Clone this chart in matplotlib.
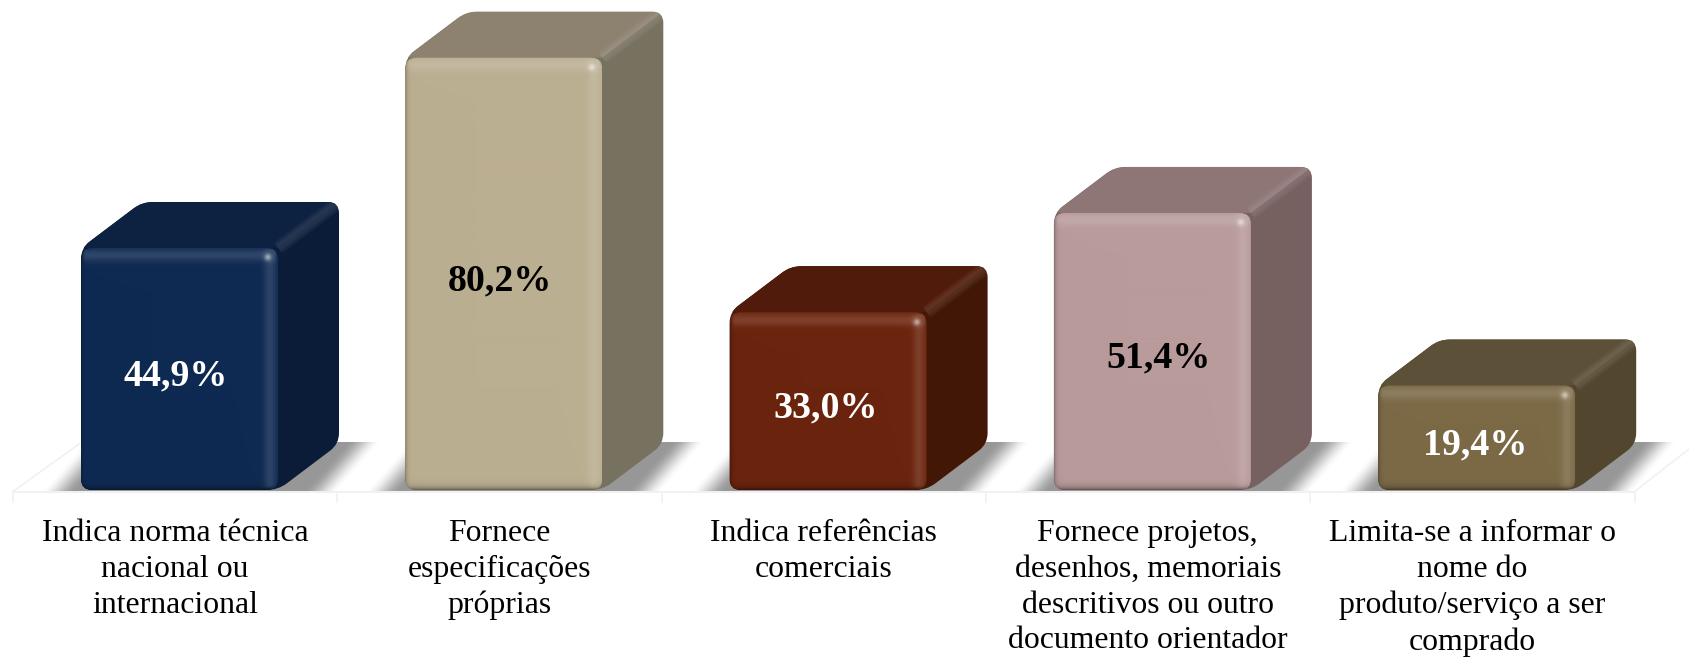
import numpy as np
import matplotlib
matplotlib.use("Agg")
import matplotlib.pyplot as plt
from matplotlib.path import Path
from matplotlib.patches import PathPatch

categories = [
    "Indica norma técnica\nnacional ou\ninternacional",
    "Fornece\nespecificações\npróprias",
    "Indica referências\ncomerciais",
    "Fornece projetos,\ndesenhos, memoriais\ndescritivos ou outro\ndocumento orientador",
    "Limita-se a informar o\nnome do\nproduto/serviço a ser\ncomprado",
]
values = [44.9, 80.2, 33.0, 51.4, 19.4]
value_labels = ["44,9%", "80,2%", "33,0%", "51,4%", "19,4%"]

front_colors = ["#0F2A52", "#BBAF92", "#6B240D", "#B99B9B", "#7C6A47"]
top_colors = ["#0D2140", "#8D8270", "#501B0A", "#8D7675", "#5D5039"]
side_colors = ["#0A1C38", "#777160", "#431706", "#776160", "#52462F"]
text_colors = ["white", "black", "white", "black", "white"]
label_shift_px = [-4, -4, -2, 6.2, -1.7]

W, H = 1689, 657
PX_X, PX_Y = 324.3, 5.39       # pixels per category / per percent
CX0, Y0 = 179.5, 490.0         # pixel position of category 0 and of value 0
BW, DX, DY = 197.0, 61.0, 46.0 # bar width and depth offsets, pixels

plt.rcParams["font.family"] = ["Liberation Serif", "DejaVu Serif"]
fig = plt.figure(figsize=(W / 100, H / 100), dpi=100, facecolor="white")
ax = fig.add_axes([0, 0, 1, 1])
ax.set_xlim(-CX0 / PX_X, (W - CX0) / PX_X)
ax.set_ylim((Y0 - H) / PX_Y, Y0 / PX_Y)
ax.axis("off")
ax.set_autoscale_on(False)


def dx(px):
    return px / PX_X


def dy(px):
    return px / PX_Y


def rounded_path(pts, r):
    """Closed path through data points, corners rounded by r pixels."""
    P = np.array([[p[0] * PX_X, p[1] * PX_Y] for p in pts], float)
    n = len(P)
    verts, codes = [], []
    for k in range(n):
        a, b, c = P[k - 1], P[k], P[(k + 1) % n]
        u = (a - b) / np.linalg.norm(a - b)
        v = (c - b) / np.linalg.norm(c - b)
        s, e = b + u * r, b + v * r
        verts += [s, b, e]
        codes += [Path.MOVETO if k == 0 else Path.LINETO, Path.CURVE3, Path.CURVE3]
    verts.append(verts[0])
    codes.append(Path.CLOSEPOLY)
    verts = np.array(verts) / [PX_X, PX_Y]
    return Path(verts, codes)


def smooth(x):
    x = np.clip(x, 0, 1)
    return x * x * (3 - 2 * x)


# floor outline
floor_c = "#F1F1F1"
n = len(values)
edge0 = -0.5134
ax.plot([edge0, edge0 + n], [-dy(1.5), -dy(1.5)], color=floor_c, lw=1.4, zorder=0.5)
for k in range(n + 1):
    ax.plot([edge0 + k] * 2, [-dy(1.5), -dy(12)], color=floor_c, lw=1.2, zorder=0.5)
ax.plot([edge0, edge0 + dx(DX + 5)], [-dy(1.5), dy(DY)], color=floor_c, lw=1.2, zorder=0.5)
ax.plot([edge0 + n, edge0 + n + dx(DX)], [-dy(1.5), dy(DY)], color=floor_c, lw=1.2, zorder=0.5)

# floor shadows
for i, v in enumerate(values):
    x0 = i - dx(BW / 2) - dx(50)
    x1 = i + dx(BW / 2) + dx(120)
    y0, y1 = -dy(1.5), dy(47)
    w, h = int((x1 - x0) * PX_X), int((y1 - y0) * PX_Y)
    xx = np.arange(w) + 0.5 - 50
    yy = (np.arange(h) + 0.5)[:, None] / h      # 0 at the bottom, 1 at the top
    u = xx[None, :] - yy * 43
    left = smooth((u + 40) / 36)
    right = 1 - smooth((u - BW - 25) / 35)
    img = np.zeros((h, w, 4))
    img[..., 3] = 0.41 * left * right
    ax.imshow(img, extent=(x0, x1, y0, y1), origin="lower", aspect="auto",
              interpolation="bilinear", zorder=1)

# bars
for i, v in enumerate(values):
    xl, xr = i - dx(BW / 2), i + dx(BW / 2)
    ddx, ddy = dx(DX), dy(DY)
    z = 2 + i

    hexagon = [(xl, 0), (xr, 0), (xr + ddx, ddy), (xr + ddx, v + ddy), (xl + ddx, v + ddy), (xl, v)]
    body = PathPatch(rounded_path(hexagon, 11), fc=side_colors[i], ec="none", zorder=z)
    ax.add_patch(body)

    top = plt.Polygon([(xl, v), (xr, v), (xr + ddx, v + ddy), (xl + ddx, v + ddy)],
                      fc=top_colors[i], ec="none", zorder=z + 0.1)
    ax.add_patch(top)
    top.set_clip_path(body)

    # soft ridge between top and side
    for px_w, al in [(14, 0.035), (10, 0.04), (6, 0.03)]:
        ridge, = ax.plot([xr, xr + ddx], [v, v + ddy], color="white", lw=px_w * 0.72, alpha=al,
                         solid_capstyle="butt", zorder=z + 0.2)
        ridge.set_clip_path(body)

    # front face with bevels
    fw, fh = int(round(BW)), int(round(v * PX_Y))
    X = np.arange(fw) + 0.5
    Y = (np.arange(fh) + 0.5)[:, None]     # distance from the bottom
    dl, dr = X[None, :] + 0 * Y, fw - X[None, :] + 0 * Y
    db, dt = Y + 0 * X[None, :], fh - Y + 0 * X[None, :]
    base = np.array(matplotlib.colors.to_rgb(front_colors[i]))
    light = np.exp(-((dt - 8) / 6) ** 2) * 0.13 * smooth(dr / 5) * smooth(dl / 5) \
        + np.exp(-((dr - 8) / 6) ** 2) * 0.12 * smooth(dt / 5) * smooth(db / 5)
    light = np.minimum(light, 0.15)
    spot = np.exp(-(((dr - 10) ** 2 + (dt - 10) ** 2) / 12)) * 0.45
    shade = 0.5 * np.exp(-db / 2.8) + 0.3 * np.exp(-dl / 2.0)
    shade = np.clip(shade, 0, 0.7)
    l = np.clip(light + spot, 0, 1)[..., None]
    rgb = base * (1 - shade[..., None])
    rgb = rgb + (1 - rgb) * l
    im = ax.imshow(rgb, extent=(xl, xr, 0, v), origin="lower", aspect="auto",
                   interpolation="bilinear", zorder=z + 0.3)
    front_clip = PathPatch(rounded_path([(xl, 0), (xr, 0), (xr, v), (xl, v)], 11),
                           transform=ax.transData, fc="none", ec="none")
    im.set_clip_path(front_clip)

    ax.text(i + dx(label_shift_px[i]), v / 2 - dy(7), value_labels[i], ha="center", va="center",
            color=text_colors[i], fontsize=27.3, fontweight="bold", zorder=20)

    ax.text(i - dx(4.6), -dy(29), categories[i], ha="center", va="top", color="black",
            fontsize=22.9, linespacing=1.309, zorder=20)

fig.savefig("out.png", dpi=100, facecolor="white")
